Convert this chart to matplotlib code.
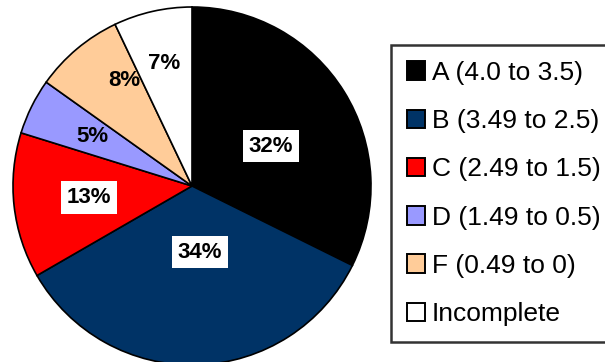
import numpy as np
import matplotlib
matplotlib.use("Agg")
import matplotlib.pyplot as plt
from matplotlib.patches import Patch

plt.rcParams['font.family'] = ['Liberation Sans', 'DejaVu Sans']

grades = ['A (4.0 to 3.5)', 'B (3.49 to 2.5)', 'C (2.49 to 1.5)',
          'D (1.49 to 0.5)', 'F (0.49 to 0)', 'Incomplete']
shares = [32, 34, 13, 5, 8, 7]
colors = ['#000000', '#003366', '#FF0000', '#9999FF', '#FFCC99', '#FFFFFF']

# label placement (radius as fraction, nudge of angle in degrees)
label_r = [0.495, 0.372, 0.58, 0.62, 0.70, 0.70]
label_nudge = [-5, 5, 0, 0, -7.5, 0]
boxed = [True, True, True, False, False, False]

fig = plt.figure(figsize=(6.05, 3.62), dpi=100)
ax = fig.add_axes([13 / 605, -3 / 362, 358 / 605, 358 / 362])

wedges, _ = ax.pie(shares, colors=colors, startangle=90, counterclock=False,
                   wedgeprops=dict(edgecolor='black', linewidth=1.2))
ax.set_xlim(-1, 1)
ax.set_ylim(-1, 1)
ax.set_aspect('equal')
ax.axis('off')

for w, s, r, n, b in zip(wedges, shares, label_r, label_nudge, boxed):
    mid = np.deg2rad((w.theta1 + w.theta2) / 2 + n)
    x, y = r * np.cos(mid), r * np.sin(mid)
    bbox = dict(facecolor='white', edgecolor='none',
                boxstyle='square,pad=0.25') if b else None
    ax.text(x, y, f'{s}%', ha='center', va='center', fontsize=16,
            fontweight='bold', color='black', bbox=bbox)

handles = [Patch(facecolor=c, edgecolor='black', linewidth=1.4) for c in colors]
leg = fig.legend(handles, grades, loc='upper left',
                 bbox_to_anchor=(391 / 605, 1 - 45 / 362), borderaxespad=0,
                 fontsize=19, frameon=True, fancybox=False,
                 handlelength=0.7, handleheight=0.7, handletextpad=0.25,
                 labelspacing=0.92, borderpad=0.6)
leg.get_frame().set_edgecolor('black')
leg.get_frame().set_linewidth(1.8)

fig.savefig('out.png', dpi=100)
